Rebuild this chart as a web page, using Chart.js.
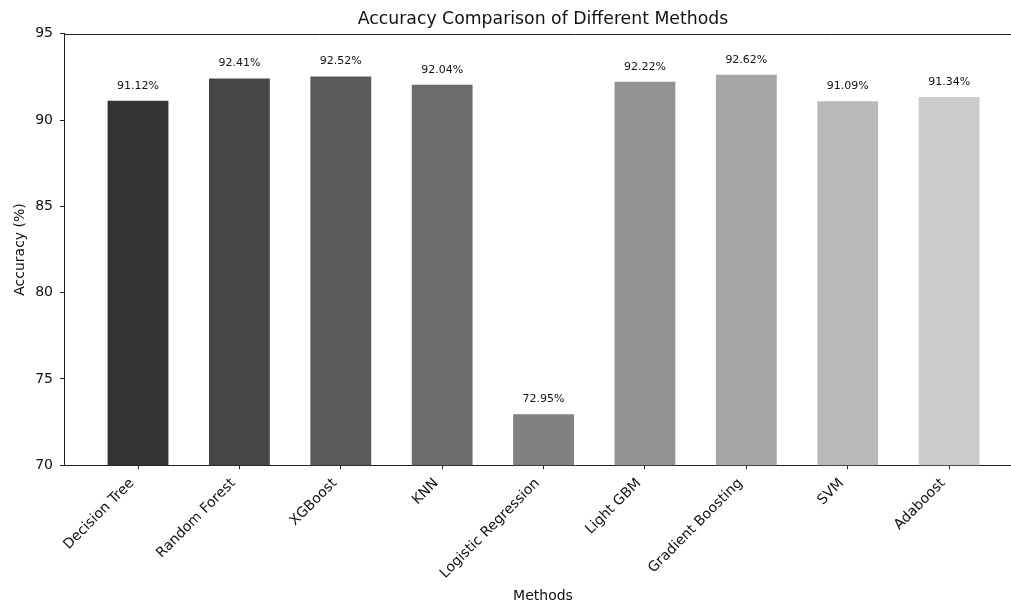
<!DOCTYPE html>
<html>
<head>
<meta charset="utf-8">
<script src="https://cdn.jsdelivr.net/npm/chart.js@4.4.0/dist/chart.umd.min.js"></script>
<style>
html, body { margin: 0; padding: 0; overflow: hidden; background: #fff; width: 1011px; height: 603px; }
#wrap { position: absolute; left: 0; top: 0; width: 1086px; height: 603px; }
</style>
</head>
<body>
<div id="wrap"><canvas id="c"></canvas></div>
<script>
const methods = ["Decision Tree", "Random Forest", "XGBoost", "KNN", "Logistic Regression", "Light GBM", "Gradient Boosting", "SVM", "Adaboost"];
const accuracy = [91.12, 92.41, 92.52, 92.04, 72.95, 92.22, 92.62, 91.09, 91.34];
const barColors = ["#333333", "#464646", "#595959", "#6c6c6c", "#808080", "#939393", "#a6a6a6", "#b9b9b9", "#cccccc"];
const yTicks = [70, 75, 80, 85, 90, 95];

const FONT = "'DejaVu Sans', sans-serif";

const valueLabels = {
  id: 'valueLabels',
  afterDatasetsDraw(chart) {
    const ctx = chart.ctx;
    const meta = chart.getDatasetMeta(0);
    ctx.save();
    ctx.font = "11px " + FONT;
    ctx.fillStyle = "#111";
    ctx.textAlign = "center";
    ctx.textBaseline = "middle";
    meta.data.forEach((bar, i) => {
      const p = bar.getProps(['x', 'y'], true);
      ctx.fillText(accuracy[i].toFixed(2) + "%", p.x, p.y - 15);
    });
    ctx.restore();
  }
};

const topSpine = {
  id: 'topSpine',
  afterDraw(chart) {
    const a = chart.chartArea;
    const ctx = chart.ctx;
    ctx.save();
    ctx.strokeStyle = "#222";
    ctx.lineWidth = 1;
    ctx.beginPath();
    ctx.moveTo(a.left, Math.round(a.top) + 0.5);
    ctx.lineTo(a.right + 1, Math.round(a.top) + 0.5);
    ctx.stroke();
    ctx.restore();
  }
};

new Chart(document.getElementById('c'), {
  type: 'bar',
  data: {
    datasets: [{
      data: accuracy.map((v, i) => ({ x: i, y: v })),
      backgroundColor: barColors,
      borderWidth: 0,
      barPercentage: 0.6,
      categoryPercentage: 1.0
    }]
  },
  options: {
    responsive: true,
    maintainAspectRatio: false,
    animation: false,
    layout: { padding: { left: 0, right: 0, top: 0, bottom: 0 } },
    plugins: {
      legend: { display: false },
      tooltip: { enabled: false },
      title: {
        display: true,
        text: "Accuracy Comparison of Different Methods",
        color: "#111",
        font: { family: FONT, size: 17.3, weight: 'normal' },
        padding: { top: 9, bottom: 4 }
      },
      subtitle: {
        display: true,
        position: 'bottom',
        text: "Methods",
        color: "#111",
        font: { family: FONT, size: 14, weight: 'normal' },
        padding: { top: 2, bottom: -2 }
      }
    },
    scales: {
      x: {
        type: 'linear',
        min: -0.73,
        max: 9.35,
        offset: false,
        afterBuildTicks(scale) { scale.ticks = methods.map((m, i) => ({ value: i })); },
        afterFit(scale) { scale.height = 121; },
        ticks: {
          autoSkip: false,
          maxRotation: 45,
          minRotation: 45,
          color: "#111",
          font: { family: FONT, size: 14 },
          padding: 6,
          labelOffset: -6,
          callback: (v) => methods[v]
        },
        grid: { display: true, offset: false, drawOnChartArea: false, drawTicks: true, tickLength: 4, color: "#222", lineWidth: 1 },
        border: { display: true, color: "#222", width: 1 },
        title: { display: false }
      },
      y: {
        min: 70,
        max: 95,
        afterBuildTicks(scale) { scale.ticks = yTicks.map(v => ({ value: v })); },
        afterFit(scale) { scale.width = 64; },
        ticks: {
          color: "#111",
          font: { family: FONT, size: 14 },
          padding: 7
        },
        grid: { display: true, offset: false, drawOnChartArea: false, drawTicks: true, tickLength: 4, color: "#222", lineWidth: 1 },
        border: { display: true, color: "#222", width: 1 },
        title: { display: true, text: "Accuracy (%)", color: "#111", font: { family: FONT, size: 14 }, padding: { top: 12, bottom: 0 } }
      }
    }
  },
  plugins: [valueLabels, topSpine]
});
</script>
</body>
</html>
